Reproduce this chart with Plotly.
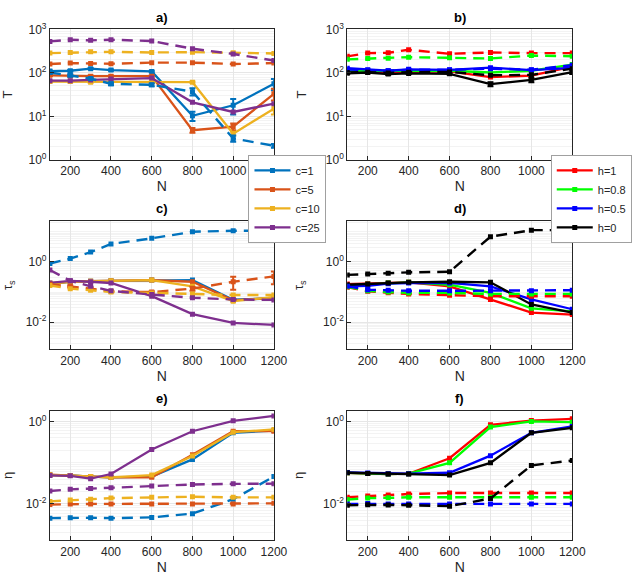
import plotly.graph_objects as go

# ---------------- data ----------------
N = [100, 200, 300, 400, 600, 800, 1000, 1200]

c_names = ["c=1", "c=5", "c=10", "c=25"]
h_names = ["h=1", "h=0.8", "h=0.5", "h=0"]

# panel a) T vs N for c
T_c1_solid = [110, 112, 125, 116, 108, 10.3, 18, 56]
T_c1_dash = [102, 88, 74, 56, 53, 37, 3.1, 2.1]
T_c5_solid = [88, 85, 84, 84, 84, 4.8, 5.8, 33]
T_c5_dash = [160, 168, 165, 162, 172, 172, 160, 168]
T_c10_solid = [63, 63, 61, 61, 61, 61, 4.0, 15]
T_c10_dash = [285, 295, 305, 305, 295, 300, 290, 280]
T_c25_solid = [66, 66, 69, 72, 76, 21, 12.6, 19.6]
T_c25_dash = [530, 580, 560, 580, 540, 360, 272, 193]

# panel b) T vs N for h
T_h1_solid = [105, 108, 100, 105, 108, 80, 86, 140]
T_h1_dash = [240, 285, 290, 340, 275, 295, 285, 285]
T_h08_solid = [112, 112, 108, 112, 112, 102, 112, 155]
T_h08_dash = [205, 215, 218, 230, 222, 215, 250, 242]
T_h05_solid = [128, 118, 112, 121, 117, 132, 116, 130]
T_h05_dash = [120, 115, 112, 118, 118, 125, 118, 150]
T_h0_solid = [98, 102, 94, 97, 95, 55, 69, 104]
T_h0_dash = [102, 104, 100, 104, 105, 88, 90, 125]

# panel c) tau_s vs N for c
tau_c1_solid = [0.18, 0.22, 0.23, 0.235, 0.25, 0.25, 0.056, 0.062]
tau_c1_dash = [0.88, 1.28, 2.1, 3.9, 6.0, 9.9, 10.7, 10.7]
tau_c5_solid = [0.19, 0.22, 0.23, 0.235, 0.25, 0.22, 0.053, 0.065]
tau_c5_dash = [0.18, 0.155, 0.13, 0.106, 0.1, 0.13, 0.22, 0.33]
tau_c10_solid = [0.2, 0.22, 0.23, 0.235, 0.25, 0.155, 0.05, 0.068]
tau_c10_dash = [0.165, 0.13, 0.115, 0.1, 0.094, 0.087, 0.08, 0.08]
tau_c25_solid = [0.2, 0.236, 0.22, 0.2, 0.073, 0.0186, 0.0095, 0.0082]
tau_c25_dash = [0.54, 0.236, 0.155, 0.11, 0.083, 0.065, 0.057, 0.055]

# panel d) tau_s vs N for h
tau_h1_solid = [0.184, 0.19, 0.2, 0.21, 0.155, 0.057, 0.021, 0.018]
tau_h1_dash = [0.145, 0.106, 0.095, 0.087, 0.079, 0.073, 0.073, 0.073]
tau_h08_solid = [0.165, 0.18, 0.2, 0.21, 0.175, 0.094, 0.029, 0.023]
tau_h08_dash = [0.15, 0.11, 0.1, 0.094, 0.094, 0.087, 0.087, 0.087]
tau_h05_solid = [0.155, 0.16, 0.19, 0.2, 0.2, 0.155, 0.057, 0.027]
tau_h05_dash = [0.155, 0.12, 0.115, 0.11, 0.11, 0.11, 0.11, 0.115]
tau_h0_solid = [0.175, 0.185, 0.2, 0.21, 0.22, 0.21, 0.039, 0.021]
tau_h0_dash = [0.37, 0.4, 0.42, 0.45, 0.47, 6.8, 11.2, 11.2]

# panel e) eta vs N for c
eta_c1_solid = [0.05, 0.049, 0.046, 0.044, 0.046, 0.12, 0.53, 0.6]
eta_c1_dash = [0.0045, 0.0046, 0.0046, 0.0045, 0.0047, 0.0058, 0.013, 0.046]
eta_c5_solid = [0.051, 0.049, 0.046, 0.044, 0.044, 0.155, 0.58, 0.58]
eta_c5_dash = [0.0096, 0.01, 0.01, 0.01, 0.01, 0.01, 0.01, 0.0103]
eta_c10_solid = [0.05, 0.049, 0.046, 0.044, 0.05, 0.145, 0.55, 0.64]
eta_c10_dash = [0.0115, 0.0124, 0.013, 0.0138, 0.0144, 0.0149, 0.0144, 0.0144]
eta_c25_solid = [0.049, 0.048, 0.041, 0.053, 0.21, 0.58, 1.04, 1.36]
eta_c25_dash = [0.0205, 0.0225, 0.0235, 0.0245, 0.027, 0.0296, 0.0306, 0.031]

# panel f) eta vs N for h
eta_h1_solid = [0.057, 0.055, 0.053, 0.054, 0.128, 0.83, 1.05, 1.16]
eta_h1_dash = [0.0145, 0.0155, 0.0165, 0.0173, 0.0183, 0.0183, 0.0183, 0.0183]
eta_h08_solid = [0.057, 0.055, 0.053, 0.054, 0.099, 0.73, 1.0, 0.96]
eta_h08_dash = [0.0127, 0.0138, 0.014, 0.0145, 0.0145, 0.0145, 0.0145, 0.0145]
eta_h05_solid = [0.058, 0.056, 0.054, 0.054, 0.057, 0.148, 0.53, 0.76]
eta_h05_dash = [0.01, 0.0102, 0.01, 0.01, 0.01, 0.01, 0.01, 0.01]
eta_h0_solid = [0.057, 0.055, 0.053, 0.053, 0.05, 0.099, 0.53, 0.7]
eta_h0_dash = [0.0093, 0.0095, 0.0094, 0.0093, 0.0088, 0.0135, 0.086, 0.113]

# visible error bars (symmetric, data units)
err_T_c1_solid = [4, 4, 4, 4, 4, 2.5, 7, 16]
err_T_c1_dash = [5, 5, 4, 4, 4, 7, 0.5, 0.2]
err_T_c5_solid = [3, 3, 3, 3, 3, 0.6, 1.0, 10]
err_T_c10_solid = [2, 2, 2, 2, 2, 2, 0.4, 4]
err_T_h0_solid = [3, 3, 3, 3, 3, 6, 8, 10]
err_tau_c5_dash = [0.01, 0.01, 0.008, 0.006, 0.006, 0.02, 0.1, 0.15]

# ---------------- styling ----------------
c_colors = ["#0072BD", "#D95319", "#EDB120", "#7E2F8E"]
h_colors = ["#FF0000", "#00FF00", "#0000FF", "#000000"]
FONT = "Liberation Sans, Arial, sans-serif"
TXT = "#262626"
DASH = "11px,7px"

W, H = 644, 588
col_dom = [[51 / W, 280 / W], [355 / W, 585 / W]]
row_dom = [[1 - 155 / H, 1 - 21 / H], [1 - 350 / H, 1 - 218 / H], [1 - 546 / H, 1 - 413 / H]]

panels = [
    ([T_c1_solid, T_c5_solid, T_c10_solid, T_c25_solid],
     [T_c1_dash, T_c5_dash, T_c10_dash, T_c25_dash],
     {0: err_T_c1_solid, 1: err_T_c5_solid, 2: err_T_c10_solid}, {0: err_T_c1_dash},
     c_names, c_colors, "legend"),
    ([T_h1_solid, T_h08_solid, T_h05_solid, T_h0_solid],
     [T_h1_dash, T_h08_dash, T_h05_dash, T_h0_dash],
     {3: err_T_h0_solid}, {},
     h_names, h_colors, "legend2"),
    ([tau_c1_solid, tau_c5_solid, tau_c10_solid, tau_c25_solid],
     [tau_c1_dash, tau_c5_dash, tau_c10_dash, tau_c25_dash],
     {}, {1: err_tau_c5_dash},
     c_names, c_colors, None),
    ([tau_h1_solid, tau_h08_solid, tau_h05_solid, tau_h0_solid],
     [tau_h1_dash, tau_h08_dash, tau_h05_dash, tau_h0_dash],
     {}, {},
     h_names, h_colors, None),
    ([eta_c1_solid, eta_c5_solid, eta_c10_solid, eta_c25_solid],
     [eta_c1_dash, eta_c5_dash, eta_c10_dash, eta_c25_dash],
     {}, {},
     c_names, c_colors, None),
    ([eta_h1_solid, eta_h08_solid, eta_h05_solid, eta_h0_solid],
     [eta_h1_dash, eta_h08_dash, eta_h05_dash, eta_h0_dash],
     {}, {},
     h_names, h_colors, None),
]

titles = ["a)", "b)", "c)", "d)", "e)", "f)"]
ytitles = ["T", "T", "τ<sub>s</sub>", "τ<sub>s</sub>", "η", "η"]
yranges = [[0, 3], [0, 3], [-2.9, 1.35], [-2.9, 1.35], [-2.88, 0.26], [-2.88, 0.26]]
ytickvals = [[1, 10, 100, 1000], [1, 10, 100, 1000], [0.01, 1], [0.01, 1], [0.01, 1], [0.01, 1]]
yticktext = [["10<sup>0</sup>", "10<sup>1</sup>", "10<sup>2</sup>", "10<sup>3</sup>"]] * 2 + \
            [["10<sup>-2</sup>", "10<sup>0</sup>"]] * 4

fig = go.Figure()
layout = dict(
    width=W, height=H, margin=dict(l=0, r=0, t=0, b=0),
    paper_bgcolor="white", plot_bgcolor="white",
    font=dict(family=FONT, color=TXT, size=12),
    annotations=[],
)

for p, (solids, dashes, esol, edash, names, colors, leg) in enumerate(panels):
    ax = "" if p == 0 else str(p + 1)
    xref, yref = "x" + ax, "y" + ax
    for i in range(4):
        tr = dict(
            x=N, y=solids[i], mode="lines+markers", xaxis=xref, yaxis=yref,
            line=dict(color=colors[i], width=2.3),
            marker=dict(symbol="square", size=5, color=colors[i]),
            name=names[i], showlegend=leg is not None,
        )
        if leg is not None:
            tr["legend"] = leg
        if i in esol:
            tr["error_y"] = dict(type="data", array=esol[i], color=colors[i], thickness=2, width=3)
        fig.add_trace(go.Scatter(**tr))
    for i in range(4):
        tr = dict(
            x=N, y=dashes[i], mode="lines+markers", xaxis=xref, yaxis=yref,
            line=dict(color=colors[i], width=2.4, dash=DASH),
            marker=dict(symbol="square", size=5, color=colors[i]),
            name=names[i], showlegend=False,
        )
        if i in edash:
            tr["error_y"] = dict(type="data", array=edash[i], color=colors[i], thickness=2, width=3)
        fig.add_trace(go.Scatter(**tr))

    r, c = divmod(p, 2)
    layout["xaxis" + ax] = dict(
        domain=col_dom[c], anchor=yref, range=[100, 1200],
        tickvals=[200, 400, 600, 800, 1000, 1200], ticks="inside", ticklen=4,
        tickcolor=TXT, showline=True, linecolor=TXT, linewidth=1, mirror=True,
        showgrid=True, gridcolor="#e6e6e6", gridwidth=1, zeroline=False,
        tickfont=dict(size=12, color=TXT),
        title=dict(text="N", font=dict(size=14, color=TXT), standoff=4),
    )
    layout["yaxis" + ax] = dict(
        domain=row_dom[r], anchor=xref, type="log", range=yranges[p],
        tickvals=ytickvals[p], ticktext=yticktext[p], ticks="inside", ticklen=4,
        tickcolor=TXT, showline=True, linecolor=TXT, linewidth=1, mirror=True,
        showgrid=True, gridcolor="#e6e6e6", gridwidth=1, zeroline=False,
        minor=dict(showgrid=True, gridcolor="#f3f3f3", dtick="D1", ticks=""),
        tickfont=dict(size=12, color=TXT),
        title=dict(text=ytitles[p], font=dict(size=13, color=TXT), standoff=16),
    )
    layout["annotations"].append(dict(
        text="<b>" + titles[p] + "</b>", xref="paper", yref="paper",
        x=(col_dom[c][0] + col_dom[c][1]) / 2, y=row_dom[r][1] + 3 / H,
        xanchor="center", yanchor="bottom", showarrow=False,
        font=dict(size=13, color="#000000"),
    ))

leg_common = dict(
    bgcolor="white", bordercolor="#a0a0a0", borderwidth=1,
    font=dict(size=11, color=TXT), itemwidth=36, tracegroupgap=0,
    xanchor="left", yanchor="top",
)
layout["legend"] = dict(x=254 / W, y=1 - 150 / H, **leg_common)
layout["legend2"] = dict(x=563 / W, y=1 - 150 / H, **leg_common)

fig.update_layout(**layout)
fig.write_html("out.html")
